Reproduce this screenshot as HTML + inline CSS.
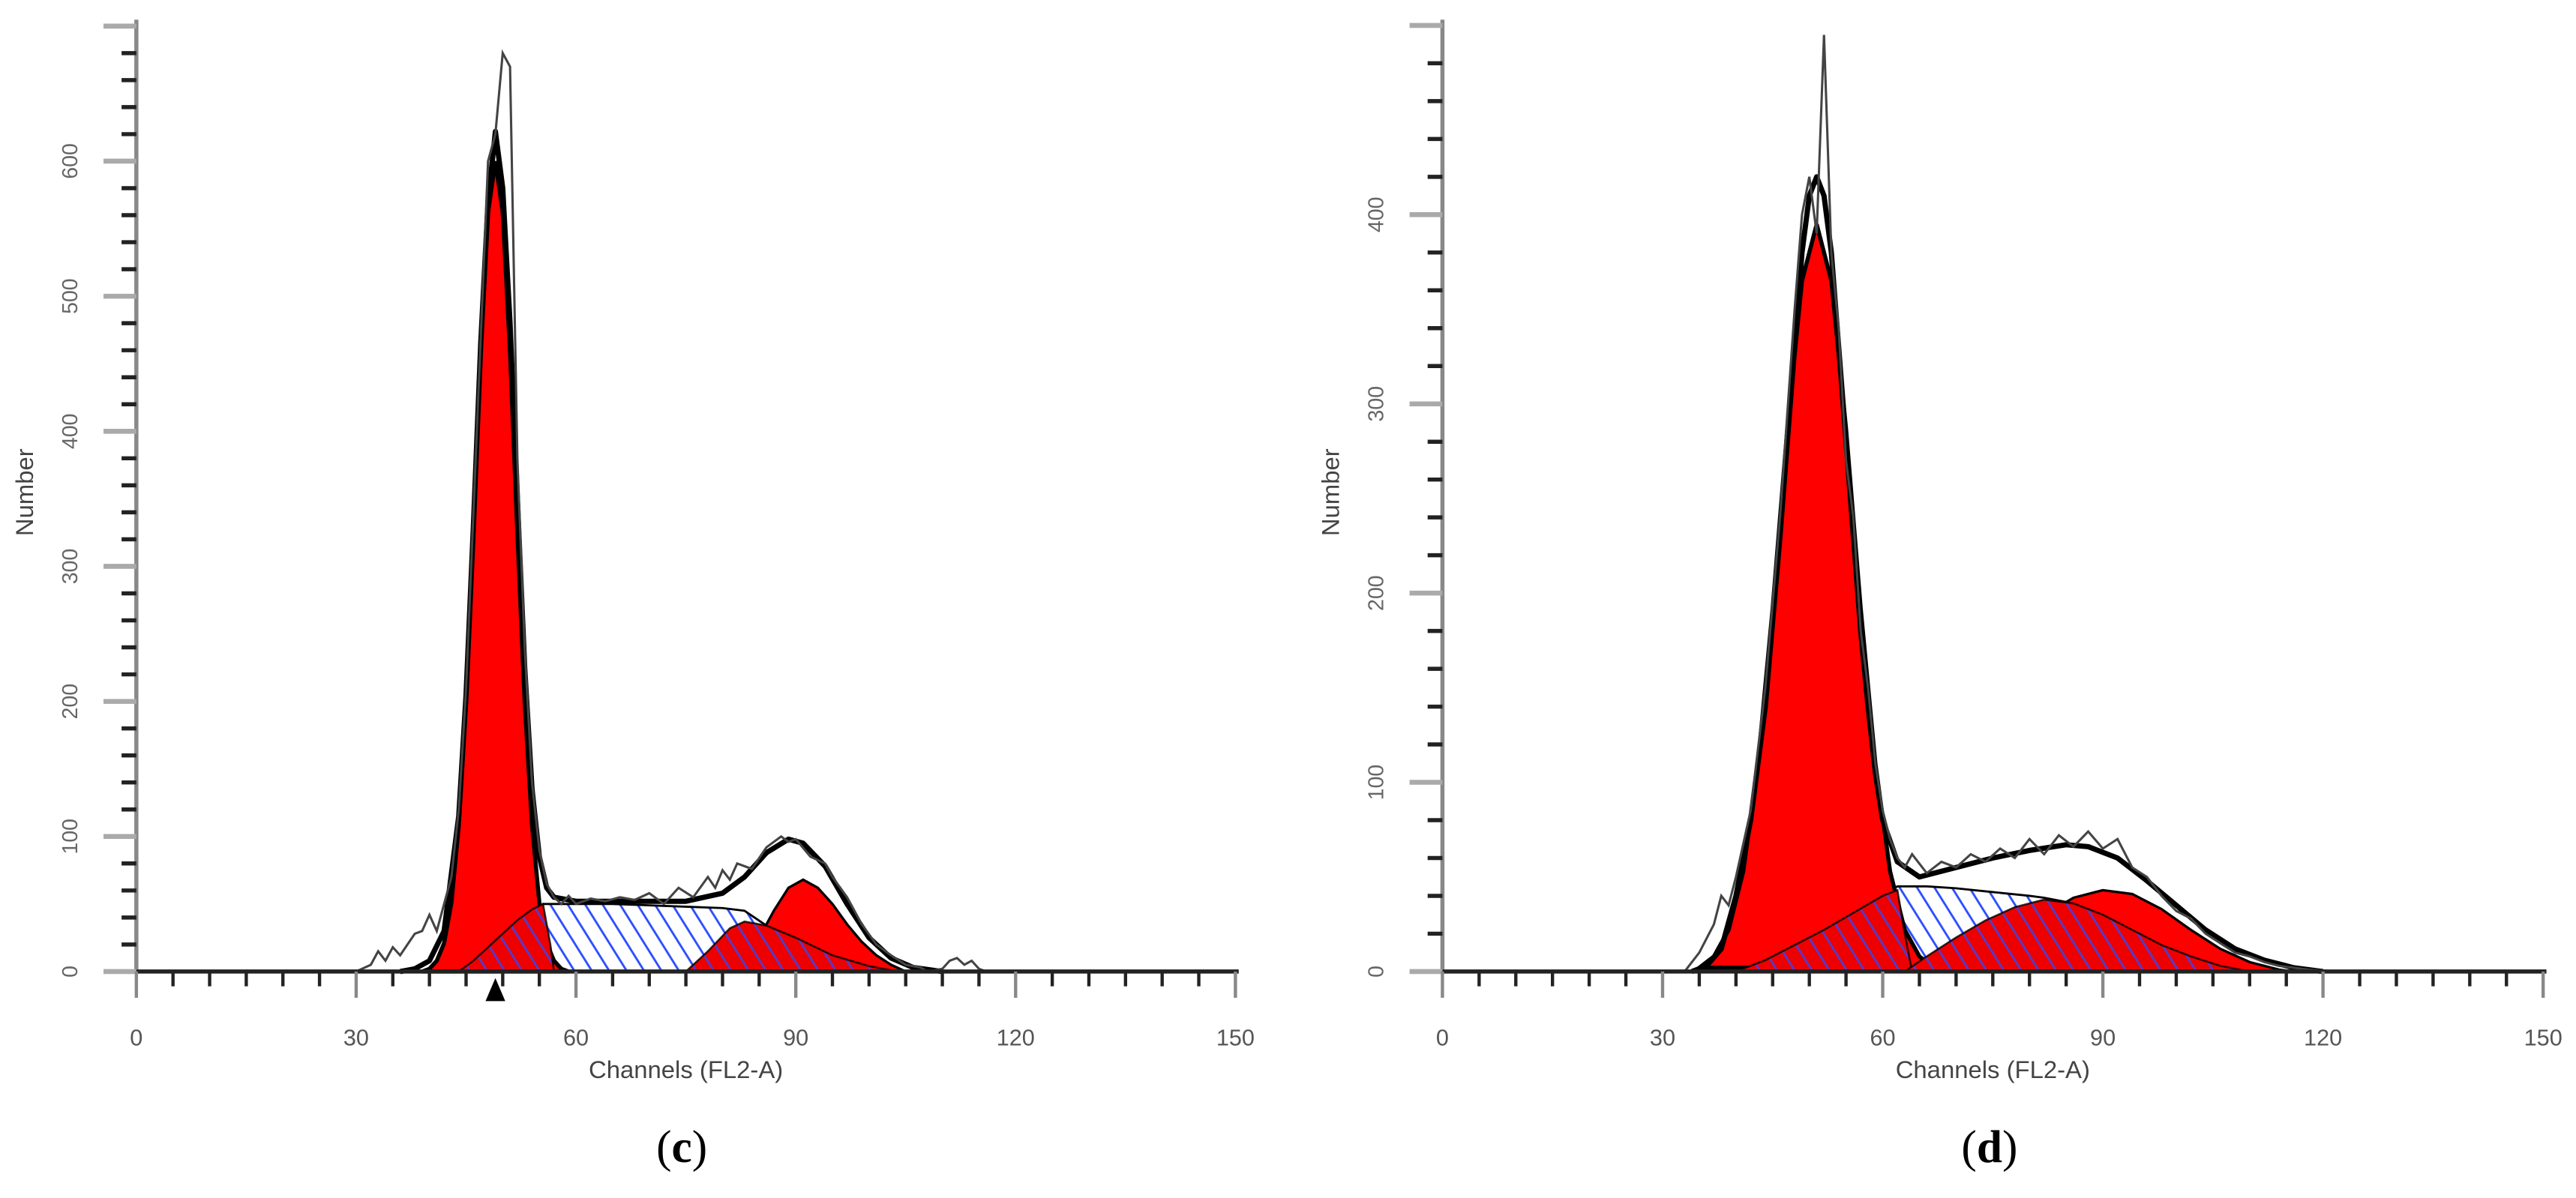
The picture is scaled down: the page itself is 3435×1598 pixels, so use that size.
<!DOCTYPE html>
<html><head><meta charset="utf-8">
<style>
html,body{margin:0;padding:0;background:#fff;}
svg{display:block;}
text{font-family:"Liberation Sans",sans-serif;}
</style></head>
<body>
<svg id="fig" xmlns="http://www.w3.org/2000/svg" width="3435" height="1598" viewBox="0 0 1568 730" preserveAspectRatio="none">
<defs>
<pattern id="hatch" patternUnits="userSpaceOnUse" width="9" height="9" patternTransform="rotate(-32)">
<line x1="1" y1="0" x2="1" y2="9" stroke="#2a4cff" stroke-width="1.3"/>
</pattern>
</defs>
<g id="chartC"></g>
<g id="chartD"></g>
<text x="415" y="708" style="font-family:'Liberation Serif',serif;font-size:28px" text-anchor="middle">(<tspan font-weight="bold">c</tspan>)</text>
<text x="1211" y="708" style="font-family:'Liberation Serif',serif;font-size:28px" text-anchor="middle">(<tspan font-weight="bold">d</tspan>)</text>
</svg>
<script>
// ---------- data: panel (c) ----------
const cRawX = [30,32,33,34,35,36,37,38,39,40,41,42,43,44,45,46,47,48,49,50,51,52,53,54,55,56,57,58,59,60,62,64,66,68,70,72,74,76,78,79,80,81,82,84,86,88,89,90,92,94,95,97,99,101,103,105,107,108,110,111,112,113,114,115,116];
const cRawY = [0,5,15,8,18,12,20,28,30,42,30,50,70,120,210,340,470,600,620,680,670,380,240,140,90,65,55,50,56,50,54,52,55,53,58,50,62,55,70,62,75,68,80,76,92,100,96,98,85,80,70,55,35,20,12,5,3,0,2,8,10,5,8,2,0];
const cFitX = [36,38,40,42,44,45,46,47,48,49,50,51,52,53,54,55,56,57,60,65,70,75,80,83,86,89,91,94,97,100,103,106,110];
const cFitY = [0,2,8,30,115,205,330,465,570,622,580,480,350,225,135,85,62,55,52,52,52,52,58,70,88,98,95,78,50,25,10,3,0];
const cG1X = [39,40,41,42,43,44,45,46,47,48,49,50,51,52,53,54,55,56,57,58,59];
const cG1Y = [0,2,8,21,51,108,199,324,458,562,600,562,458,324,199,108,51,21,8,2,0];
const cG2X = [80,83,85,87,89,91,93,95,97,99,101,103,105];
const cG2Y = [0,10,25,45,62,68,62,50,35,22,12,5,0];
const cSX = [44,46,48,50,52,54,55.5,60,65,70,75,80,83,86,90,95,100,104];
const cSY = [0,8,18,28,38,46,50,50,50,49,48,47,45,34,25,12,4,0];
const cAX = [44,46,48,50,52,54,55.5,56.5,57];
const cAY = [0,8,18,28,38,46,50,20,0];
const cBX = [75,78,81,83,86,90,95,100,104];
const cBY = [0,15,32,37,34,25,12,4,0];
const cYTicks = ["100","200","300","400","500","600"];
const cXTicks = ["0","30","60","90","120","150"];
// ---------- data: panel (d) ----------
const dRawX = [33,35,37,38,39,40,42,44,46,48,49,50,51,52,53,54,55,56,57,58,59,60,61,62,63,64,66,68,70,72,74,76,78,80,82,84,86,88,90,92,94,96,98,100,102,104,106,108,110,112,114,118,122];
const dRawY = [0,10,25,40,35,50,85,150,240,350,400,420,390,495,380,340,270,240,180,150,110,85,70,60,55,62,52,58,55,62,58,65,60,70,62,72,66,74,65,70,55,50,40,32,28,20,15,10,8,5,3,1,0];
const dFitX = [34,36,38,40,42,44,46,48,49,50,51,52,53,54,55,56,57,58,59,60,62,65,70,75,80,85,88,92,96,100,104,108,112,116,120];
const dFitY = [0,3,12,40,80,140,230,330,380,410,420,410,380,330,280,230,180,140,105,80,58,50,55,60,64,67,66,60,48,35,22,12,6,2,0];
const dG1X = [35,37,39,41,43,45,47,49,51,53,55,57,59,61,63,65,67];
const dG1Y = [2,8,22,53,110,192,287,365,395,365,287,192,110,53,22,8,2];
const dG2X = [66,70,74,78,82,86,90,94,98,102,106,110,114,116];
const dG2Y = [0,2,8,18,30,39,43,41,33,22,12,5,1,0];
const dSX = [40,44,48,52,56,60,62,66,70,75,80,82,86,90,94,98,102,106,110];
const dSY = [0,6,14,22,31,40,45,45,44,42,40,39,36,30,22,14,8,3,0];
const dAX = [40,44,48,52,56,60,62,63,64];
const dAY = [0,6,14,22,31,40,43,20,0];
const dBX = [63,66,70,74,78,82,86,90,94,98,102,106,110];
const dBY = [0,8,18,27,34,38,36,30,22,14,8,3,0];
const dYTicks = ["100","200","300","400"];
const dXTicks = ["0","30","60","90","120","150"];

const NS = "http://www.w3.org/2000/svg";
function mk(tag, parent){ const e=document.createElementNS(NS,tag); parent.appendChild(e); return e; }

function drawChart(g, cfg, d){
  const sx = v => cfg.x0 + (v/150)*(cfg.x1-cfg.x0);
  const sy = v => cfg.y0 - v*cfg.k/100;
  const path = (xs, ys, close) => {
    let s = xs.map((x,i)=>(i?'L':'M')+sx(x).toFixed(2)+','+sy(ys[i]).toFixed(2)).join(' ');
    return close ? s+' Z' : s;
  };
  let p = mk('path', g); p.setAttribute('d', path(d.sX,d.sY,true)); p.setAttribute('fill','#fff');
  
  
  p = mk('path', g); p.setAttribute('d', path(d.sX,d.sY,true)); p.setAttribute('fill','url(#hatch)'); p.setAttribute('stroke','#000'); p.setAttribute('stroke-width','1.3');
  
  
  p = mk('path', g); p.setAttribute('d', path(d.g1X,d.g1Y,true)); p.setAttribute('fill','#ff0000'); p.setAttribute('stroke','#000'); p.setAttribute('stroke-width','2.5');
  
  
  p = mk('path', g); p.setAttribute('d', path(d.g2X,d.g2Y,true)); p.setAttribute('fill','#ff0000'); p.setAttribute('stroke','#000'); p.setAttribute('stroke-width','1.5');
  
  
  [[d.aX,d.aY,'s-component-left'],[d.bX,d.bY,'s-component-right']].forEach(c=>{
    let q = mk('path', g); q.setAttribute('d', path(c[0],c[1],true)); q.setAttribute('fill','#ee0000');
    
    
    q = mk('path', g); q.setAttribute('d', path(c[0],c[1],true)); q.setAttribute('fill','url(#hatch)'); q.setAttribute('stroke','#000'); q.setAttribute('stroke-width','1.2'); q.setAttribute('opacity','0.8');
    
    
  });
  p = mk('path', g); p.setAttribute('d', path(d.fitX,d.fitY,false)); p.setAttribute('fill','none'); p.setAttribute('stroke','#000'); p.setAttribute('stroke-width','3.2'); p.setAttribute('stroke-linejoin','round');
  
  
  p = mk('path', g); p.setAttribute('d', path(d.rawX,d.rawY,false)); p.setAttribute('fill','none'); p.setAttribute('stroke','#444'); p.setAttribute('stroke-width','1.4');
  
  

  let a = mk('line', g); a.setAttribute('x1',cfg.x0); a.setAttribute('x2',cfg.x0); a.setAttribute('y1',cfg.yTop); a.setAttribute('y2',cfg.y0); a.setAttribute('stroke','#888'); a.setAttribute('stroke-width','2.5');
  
  
  a = mk('line', g); a.setAttribute('x1',cfg.x0-2); a.setAttribute('x2',cfg.x1+2); a.setAttribute('y1',cfg.y0); a.setAttribute('y2',cfg.y0); a.setAttribute('stroke','#222'); a.setAttribute('stroke-width','2.5');
  
  
  for(let v=0; sy(v)>=cfg.yTop; v+=20){
    const major = v%100===0;
    const t = mk('line', g); t.setAttribute('x1', cfg.x0-(major?20:9)); t.setAttribute('x2', cfg.x0); t.setAttribute('y1', sy(v)); t.setAttribute('y2', sy(v));
    t.setAttribute('stroke', major?'#aaa':'#222'); t.setAttribute('stroke-width', major?'3':'2.5');
    
    
  }
  const yl = [ "0" ].concat(d.yTicks);
  yl.forEach((lab,i)=>{
    const v = i*100, y = sy(v);
    const t = mk('text', g); t.textContent = lab; t.setAttribute('font-size','13'); t.setAttribute('fill','#666'); t.setAttribute('text-anchor','middle');
    t.setAttribute('transform', 'translate('+(cfg.x0-40)+','+y+') rotate(-90)');
    t.setAttribute('dy','4');
    
    
  });
  for(let v=0; v<=150; v+=5){
    const major = v%30===0;
    const t = mk('line', g); t.setAttribute('x1', sx(v)); t.setAttribute('x2', sx(v)); t.setAttribute('y1', cfg.y0); t.setAttribute('y2', cfg.y0+(major?16:9));
    t.setAttribute('stroke', major?'#888':'#222'); t.setAttribute('stroke-width','2');
    
    
  }
  d.xTicks.forEach(lab=>{
    const t = mk('text', g); t.textContent = lab; t.setAttribute('x', sx(+lab)); t.setAttribute('y', cfg.y0+45);
    t.setAttribute('font-size','14'); t.setAttribute('fill','#555'); t.setAttribute('text-anchor','middle');
    
    
  });
  let t = mk('text', g); t.textContent = 'Channels (FL2-A)'; t.setAttribute('x', (cfg.x0+cfg.x1)/2); t.setAttribute('y', cfg.y0+65);
  t.setAttribute('font-size','15'); t.setAttribute('fill','#444'); t.setAttribute('text-anchor','middle');
  
  
  t = mk('text', g); t.textContent = 'Number'; t.setAttribute('font-size','15'); t.setAttribute('fill','#444'); t.setAttribute('text-anchor','middle');
  t.setAttribute('transform', 'translate('+(cfg.x0-63)+',300) rotate(-90)');
  
  
  if(cfg.marker!=null){
    const m = mk('path', g); const mx = sx(cfg.marker);
    m.setAttribute('d','M'+(mx-6)+','+(cfg.y0+18)+' L'+(mx+6)+','+(cfg.y0+18)+' L'+mx+','+(cfg.y0+4)+' Z'); m.setAttribute('fill','#000');
    
    
  }
}

drawChart(document.getElementById('chartC'), {x0:83,x1:752,y0:592,k:82.3,yTop:12,marker:49},
  {rawX:cRawX,rawY:cRawY,fitX:cFitX,fitY:cFitY,g1X:cG1X,g1Y:cG1Y,g2X:cG2X,g2Y:cG2Y,sX:cSX,sY:cSY,aX:cAX,aY:cAY,bX:cBX,bY:cBY,yTicks:cYTicks,xTicks:cXTicks});
drawChart(document.getElementById('chartD'), {x0:878,x1:1548,y0:592,k:115.3,yTop:12,marker:null},
  {rawX:dRawX,rawY:dRawY,fitX:dFitX,fitY:dFitY,g1X:dG1X,g1Y:dG1Y,g2X:dG2X,g2Y:dG2Y,sX:dSX,sY:dSY,aX:dAX,aY:dAY,bX:dBX,bY:dBY,yTicks:dYTicks,xTicks:dXTicks});
</script>
</body></html>
